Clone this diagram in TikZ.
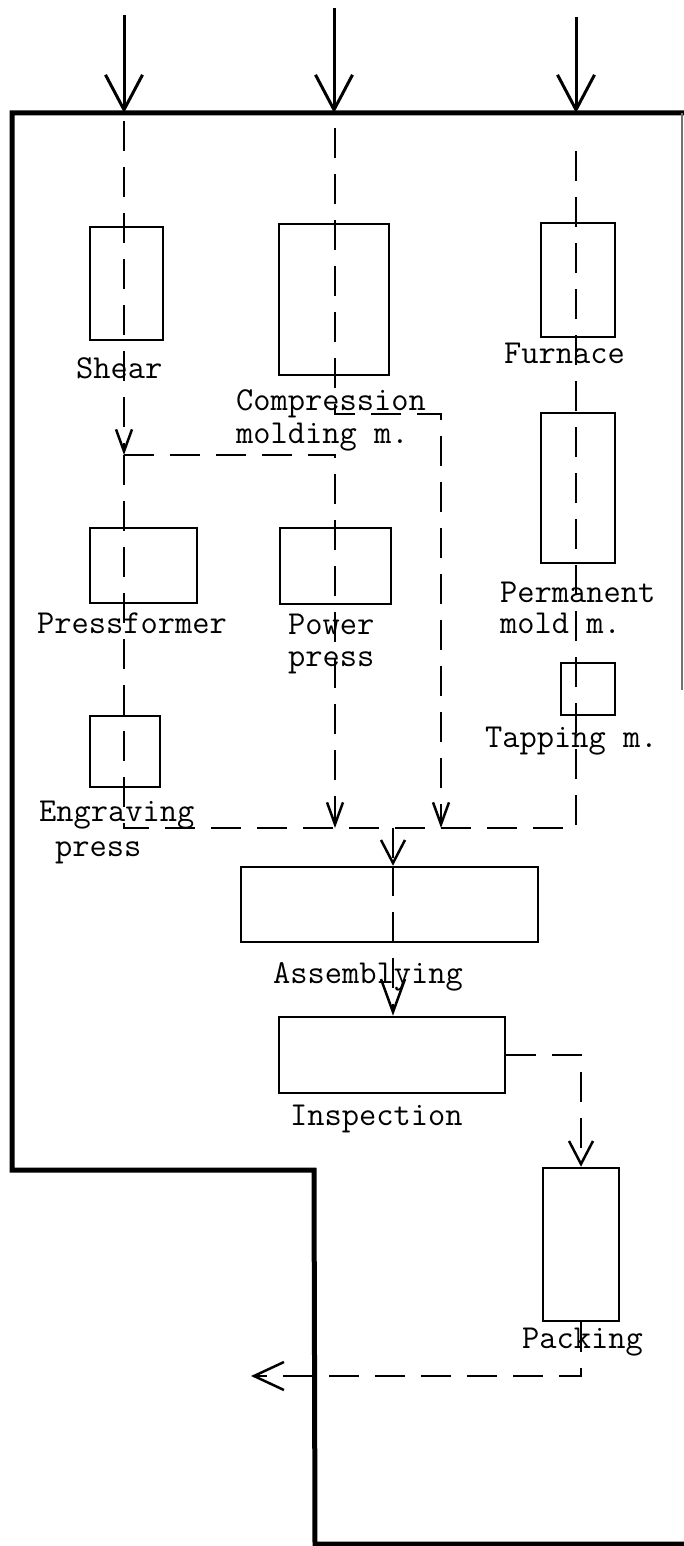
\documentclass[tikz,border=0pt]{standalone}
\usepackage{fontspec}
\usetikzlibrary{arrows.meta}
\begin{document}
\begin{tikzpicture}[x=1pt,y=-1pt,
  box/.style={draw, line width=2.6pt, inner sep=0pt, rectangle},
  lbl/.style={font=\fontsize{33.5}{40}\selectfont\ttfamily\addfontfeatures{FakeBold=1.2}, inner sep=0pt, anchor=base west},
  flow/.style={line width=2.5pt, dash pattern=on 30pt off 16pt},
  wall/.style={line width=5pt, line join=miter},
  feed/.style={line width=3pt, -{Straight Barb[length=35pt,width=37pt]}},
  tipS/.style={-{Straight Barb[length=22pt,width=16pt]}},
  tipM/.style={-{Straight Barb[length=23pt,width=24pt]}},
  tipL/.style={-{Straight Barb[length=33pt,width=24pt]}},
  tipX/.style={-{Straight Barb[length=30pt,width=28pt]}}
]
\useasboundingbox (0,0) rectangle (684,1546);

% walls
\draw[wall] (684,113) -- (12,113) -- (12,1170) -- (314,1170) -- (315,1544) -- (684,1544);
\draw[line width=2pt, black!55] (682,113) -- (682,690);

% boxes
\node[box, minimum width=73pt,  minimum height=113pt] (shear)   at (126.5,283.5) {};
\node[box, minimum width=110pt, minimum height=151pt] (comp)    at (334,299.5) {};
\node[box, minimum width=74pt,  minimum height=114pt] (furnace) at (578,280) {};
\node[box, minimum width=74pt,  minimum height=150pt] (perm)    at (578,488) {};
\node[box, minimum width=54pt,  minimum height=52pt]  (tapping) at (588,689) {};
\node[box, minimum width=107pt, minimum height=75pt]  (pressf)  at (143.5,565.5) {};
\node[box, minimum width=111pt, minimum height=76pt]  (power)   at (335.5,566) {};
\node[box, minimum width=70pt,  minimum height=71pt]  (engr)    at (125,751.5) {};
\node[box, minimum width=297pt, minimum height=75pt]  (assem)   at (389.5,904.5) {};
\node[box, minimum width=226pt, minimum height=76pt]  (insp)    at (392,1055) {};
\node[box, minimum width=76pt,  minimum height=153pt] (pack)    at (581,1244.5) {};

% labels
\node[lbl] (lshear) at (76,378) {Shear};
\node[lbl] (lcomp1) at (236,410) {Compression};
\node[lbl] (lcomp2) at (236,443) {molding m.};
\node[lbl] (lfurn) at (504,363) {Furnace};
\node[lbl] (lperm1) at (500,602) {Permanent};
\node[lbl] (lperm2) at (500,633) {mold m.};
\node[lbl] (ltap) at (485,747) {Tapping m.};
\node[lbl] (lpressf) at (37,633) {Pressformer};
\node[lbl] (lpow1) at (288,634) {Power};
\node[lbl] (lpow2) at (288,666) {press};
\node[lbl] (leng1) at (39,821) {Engraving};
\node[lbl] (leng2) at (55,856) {press};
\node[lbl] (lassem) at (273,983) {Assemblying};
\node[lbl] (linsp) at (290,1125) {Inspection};
\node[lbl] (lpack) at (522,1348) {Packing};

% coordinates
\coordinate (t1) at (124,15);
\coordinate (t2) at (334,8);
\coordinate (t3) at (576,17);
\coordinate (w1) at (124,113);
\coordinate (w2) at (334,113);
\coordinate (w3) at (576,113);
\coordinate (s1) at (124,121);
\coordinate (s2) at (335,128);
\coordinate (s3) at (576,140);
\coordinate (j1) at (124,455);
\coordinate (j1r) at (335,455);
\coordinate (cm) at (335,414);
\coordinate (cmr) at (441,414);
\coordinate (cl) at (124,828);
\coordinate (cr) at (576,828);
\coordinate (a2) at (335,828);
\coordinate (a3) at (441,828);
\coordinate (a4) at (393,828);
\coordinate (exitend) at (251,1376);

% incoming arrows
\draw[feed] (t1) -- (w1);
\draw[feed] (t2) -- (w2);
\draw[feed] (t3) -- (w3);

% flows
\draw[flow, tipS] (s1) -- (j1);
\draw[flow] (j1) -- (cl) -- (cr) -- (s3);
\draw[flow, tipS] (j1) -- (j1r) -- (a2);
\draw[flow, tipS] (s2) -- (cm) -- (cmr) -- (a3);
\draw[flow, tipM] (a4) -- (a4 |- assem.north);
\draw[flow, tipL] (a4 |- assem.north) -- (a4 |- insp.north);
\draw[flow, tipM] (insp.east) -- (insp.east -| pack.north) -- (pack.north);
\draw[flow, tipX] (pack.south) -- (pack.south |- exitend) -- (exitend);
\end{tikzpicture}
\end{document}
